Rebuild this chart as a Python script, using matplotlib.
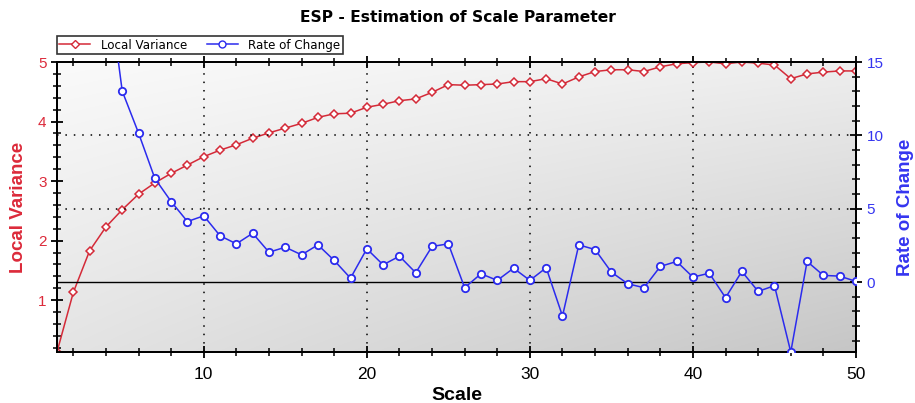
import numpy as np
import matplotlib
matplotlib.use("Agg")
import matplotlib.pyplot as plt
from matplotlib.lines import Line2D
from matplotlib.ticker import MultipleLocator
from matplotlib import font_manager

# ---- data -------------------------------------------------------------
scale = list(range(1, 51))

local_variance = [
    0.13, 1.13, 1.83, 2.23, 2.52, 2.78, 2.97, 3.13, 3.27, 3.41,
    3.52, 3.61, 3.72, 3.81, 3.89, 3.97, 4.07, 4.13, 4.14, 4.24,
    4.29, 4.35, 4.38, 4.49, 4.62, 4.61, 4.62, 4.63, 4.67, 4.67,
    4.72, 4.63, 4.75, 4.84, 4.87, 4.87, 4.84, 4.92, 4.97, 4.99,
    5.00, 4.97, 5.00, 4.98, 4.95, 4.72, 4.80, 4.83, 4.85, 4.85,
]

# rate of change in percent (undefined at the first scale)
rate_of_change = [
    np.nan, 770.0, 62.0, 21.5, 13.02, 10.16, 7.07, 5.49, 4.13, 4.52,
    3.16, 2.61, 3.33, 2.04, 2.38, 1.86, 2.54, 1.48, 0.27, 2.27,
    1.18, 1.77, 0.64, 2.43, 2.61, -0.38, 0.57, 0.12, 0.95, 0.12,
    0.98, -2.31, 2.54, 2.22, 0.68, -0.11, -0.38, 1.07, 1.41, 0.34,
    0.61, -1.06, 0.73, -0.63, -0.24, -4.76, 1.41, 0.46, 0.41, 0.05,
]

x_ticks = [10, 20, 30, 40, 50]
lv_ticks = [1, 2, 3, 4, 5]
roc_ticks = [0, 5, 10, 15]
roc_grid = [5, 10]

# ---- style ------------------------------------------------------------
RED = "#d42a38"
RED_TXT = "#dc2a3a"
BLUE = "#2b2bee"
BLUE_TXT = "#3535f0"

available = {f.name for f in font_manager.fontManager.ttflist}
narrow = "Liberation Sans Narrow" if "Liberation Sans Narrow" in available else "Liberation Sans"

fig = plt.figure(figsize=(9.15, 4.03), dpi=100)
ax = fig.add_axes([57 / 915, 1 - 352 / 403, (856 - 57) / 915, (352 - 62) / 403])
ax2 = ax.twinx()

# shaded plot background (light top-left to darker bottom-right)
corners = np.array([[250, 238], [228, 198]]) / 255.0
u = np.linspace(0, 1, 200)
v = np.linspace(0, 1, 200)
U, V = np.meshgrid(u, v)
shade = (corners[0, 0] * (1 - U) * (1 - V) + corners[0, 1] * U * (1 - V)
         + corners[1, 0] * (1 - U) * V + corners[1, 1] * U * V)
ax.imshow(np.dstack([shade] * 3), extent=(0, 1, 0, 1), transform=ax.transAxes,
          aspect="auto", zorder=0, interpolation="bilinear")

ax.set_xlim(1, 50)
ax.set_ylim(0.13, 5.0)
ax2.set_ylim(-4.76, 15)

DOTS = (0, (1, 4.5))

# grid: vertical at major scale ticks, horizontal at rate-of-change ticks
ax.xaxis.set_major_locator(MultipleLocator(10))
ax.xaxis.set_minor_locator(MultipleLocator(2))
ax.grid(axis="x", color="black", linestyle=DOTS, linewidth=1.1, zorder=1)
for g in roc_grid:
    ax2.axhline(g, color="black", linestyle=DOTS, linewidth=1.1, zorder=1)
ax2.axhline(0, color="black", linewidth=1.0, zorder=1.5)
ax2.set_yticks(roc_ticks)
ax2.yaxis.set_minor_locator(MultipleLocator(1))

ax.plot(scale, local_variance, color=RED, linewidth=1.1, marker="D",
        markersize=4.4, markerfacecolor="white", markeredgecolor=RED,
        markeredgewidth=1.1, zorder=3)
ax2.plot(scale, rate_of_change, color=BLUE, linewidth=1.1, marker="o",
         markersize=5.3, markerfacecolor="white", markeredgecolor=BLUE,
         markeredgewidth=1.3, zorder=3)

ax.set_yticks(lv_ticks)
ax.yaxis.set_minor_locator(MultipleLocator(0.2))
ax.set_xticks(x_ticks)

for a in (ax, ax2):
    for s in a.spines.values():
        s.set_linewidth(1.4)
        s.set_color("black")

ax.tick_params(axis="both", which="major", direction="inout", length=9, width=1.3,
               color="black", top=True)
ax.tick_params(axis="both", which="minor", direction="inout", length=6, width=1.1,
               color="black", top=True)
ax.tick_params(axis="x", labelsize=12.5, pad=6)
ax.tick_params(axis="y", labelsize=11, labelcolor=RED_TXT, pad=3)
ax2.tick_params(axis="y", which="major", direction="inout", length=9, width=1.3,
                labelsize=11, labelcolor=BLUE_TXT, pad=3)
ax2.tick_params(axis="y", which="minor", direction="inout", length=6, width=1.1)

for lab in ax.get_xticklabels():
    lab.set_fontfamily(narrow)
for lab in ax.get_yticklabels() + ax2.get_yticklabels():
    lab.set_fontfamily("Liberation Sans")

ax.set_xlabel("Scale", fontsize=14, fontweight="bold", family=narrow, labelpad=4)
ax.set_ylabel("Local Variance", fontsize=13.5, fontweight="bold",
              family="Liberation Sans", color=RED_TXT, labelpad=8)
ax2.set_ylabel("Rate of Change", fontsize=13.5, fontweight="bold",
               family="Liberation Sans", color=BLUE_TXT, labelpad=10)

fig.text(0.5, 1 - 17 / 403, "ESP - Estimation of Scale Parameter", ha="center",
         va="center", fontsize=11.2, fontweight="bold", family="DejaVu Sans")

handles = [
    Line2D([], [], color=RED, linewidth=1.1, marker="D", markersize=4.5,
           markerfacecolor="white", markeredgecolor=RED),
    Line2D([], [], color=BLUE, linewidth=1.1, marker="o", markersize=5,
           markerfacecolor="white", markeredgecolor=BLUE),
]
leg = fig.legend(handles, ["Local Variance", "Rate of Change"], ncol=2,
                 loc="lower left", bbox_to_anchor=(57 / 915, 1 - 54 / 403),
                 borderaxespad=0, fancybox=False, frameon=True,
                 prop={"family": "DejaVu Sans", "size": 8.6},
                 handlelength=2.6, columnspacing=1.6, borderpad=0.2,
                 handletextpad=0.9)
leg.get_frame().set_edgecolor("black")
leg.get_frame().set_linewidth(1.2)

fig.savefig("out.png", dpi=100)
